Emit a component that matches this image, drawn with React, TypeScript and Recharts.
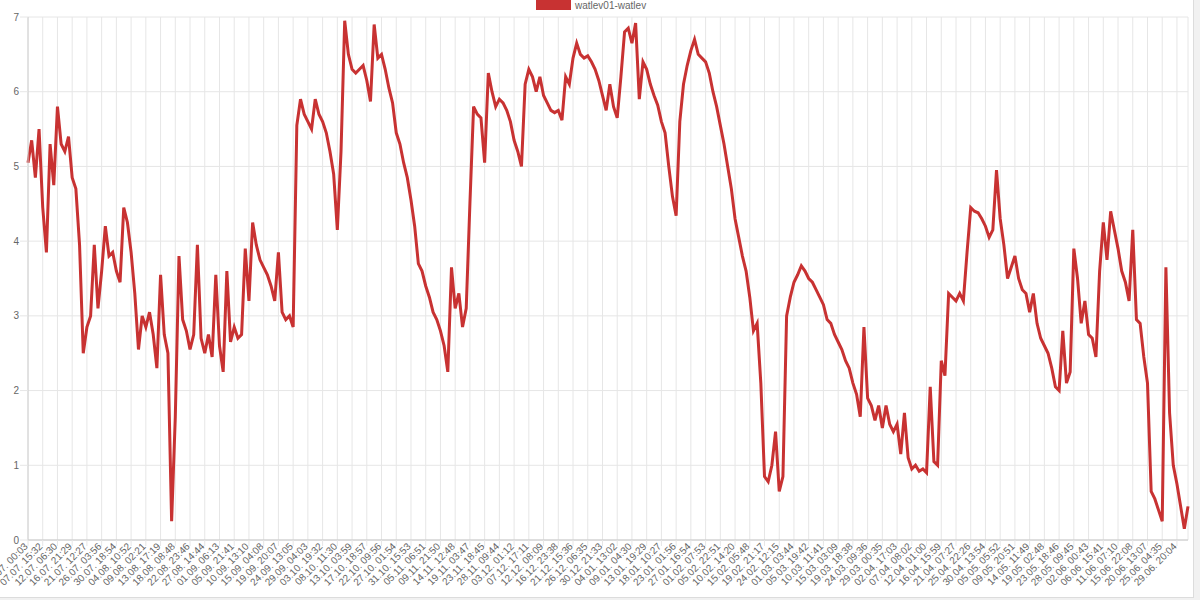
import { LineChart, Line, XAxis, YAxis, CartesianGrid } from 'recharts';

// one label every 4 samples
const POINTS_PER_LABEL = 4;

const tickLabels = [
  '03.07. 00:03', '07.07. 15:32', '12.07. 06:30', '16.07. 21:29', '21.07. 12:27', '26.07. 03:56',
  '30.07. 18:54', '04.08. 10:52', '09.08. 02:21', '13.08. 17:19', '18.08. 08:48', '22.08. 23:46',
  '27.08. 14:44', '01.09. 06:13', '05.09. 21:41', '10.09. 13:10', '15.09. 04:08', '19.09. 20:07',
  '24.09. 13:05', '29.09. 04:03', '03.10. 19:32', '08.10. 11:30', '13.10. 03:59', '17.10. 18:57',
  '22.10. 09:56', '27.10. 01:54', '31.10. 15:53', '05.11. 06:51', '09.11. 21:50', '14.11. 12:48',
  '19.11. 03:47', '23.11. 18:45', '28.11. 09:44', '03.12. 01:12', '07.12. 17:11', '12.12. 08:09',
  '16.12. 23:38', '21.12. 15:36', '26.12. 06:35', '30.12. 21:33', '04.01. 13:02', '09.01. 04:30',
  '13.01. 19:29', '18.01. 10:27', '23.01. 01:56', '27.01. 16:54', '01.02. 07:53', '05.02. 22:51',
  '10.02. 14:20', '15.02. 05:48', '19.02. 21:17', '24.02. 12:15', '01.03. 03:44', '05.03. 19:42',
  '10.03. 11:41', '15.03. 03:09', '19.03. 18:38', '24.03. 09:36', '29.03. 00:35', '02.04. 17:03',
  '07.04. 08:02', '12.04. 01:00', '16.04. 15:59', '21.04. 07:27', '25.04. 22:26', '30.04. 13:54',
  '05.05. 05:52', '09.05. 20:51', '14.05. 11:49', '19.05. 02:48', '23.05. 18:46', '28.05. 09:45',
  '02.06. 00:43', '06.06. 15:41', '11.06. 07:10', '15.06. 22:08', '20.06. 13:07', '25.06. 04:35',
  '29.06. 20:04',
];

const watlev = [
  5.05, 5.35, 4.85, 5.5, 4.45, 3.85, 5.3, 4.75,
  5.8, 5.3, 5.2, 5.4, 4.85, 4.7, 3.95, 2.5,
  2.85, 3.0, 3.95, 3.1, 3.6, 4.2, 3.8, 3.85,
  3.6, 3.45, 4.45, 4.25, 3.85, 3.3, 2.55, 3.0,
  2.85, 3.05, 2.75, 2.3, 3.55, 2.75, 2.5, 0.25,
  1.65, 3.8, 2.95, 2.8, 2.55, 2.75, 3.95, 2.7,
  2.5, 2.75, 2.45, 3.55, 2.6, 2.25, 3.6, 2.65,
  2.85, 2.7, 2.75, 3.9, 3.2, 4.25, 3.95, 3.75,
  3.65, 3.55, 3.4, 3.2, 3.85, 3.05, 2.95, 3.0,
  2.85, 5.55, 5.9, 5.7, 5.6, 5.5, 5.9, 5.7,
  5.6, 5.45, 5.2, 4.9, 4.15, 5.2, 6.95, 6.5,
  6.3, 6.25, 6.3, 6.35, 6.15, 5.87, 6.9, 6.45,
  6.5, 6.3, 6.05, 5.85, 5.45, 5.3, 5.05, 4.85,
  4.55, 4.2, 3.7, 3.6, 3.4, 3.25, 3.05, 2.95,
  2.8, 2.6, 2.25, 3.65, 3.1, 3.3, 2.85, 3.1,
  4.5, 5.8, 5.7, 5.65, 5.05, 6.25, 6.0, 5.8,
  5.9, 5.85, 5.75, 5.6, 5.35, 5.2, 5.0, 6.1,
  6.3, 6.2, 6.0, 6.2, 5.95, 5.85, 5.75, 5.72,
  5.75, 5.62, 6.2, 6.1, 6.45, 6.65, 6.5, 6.45,
  6.48, 6.4, 6.3, 6.15, 5.95, 5.75, 6.1, 5.8,
  5.65, 6.2, 6.8, 6.85, 6.65, 6.92, 5.9, 6.4,
  6.3, 6.1, 5.95, 5.82, 5.6, 5.45, 5.0, 4.6,
  4.34, 5.6, 6.1, 6.35, 6.55, 6.7, 6.5, 6.45,
  6.4, 6.25, 6.0, 5.8, 5.55, 5.3, 5.0, 4.7,
  4.3, 4.05, 3.8, 3.6, 3.25, 2.8, 2.9, 2.1,
  0.85, 0.78, 1.0, 1.45, 0.65, 0.85, 3.0, 3.25,
  3.45, 3.55, 3.67, 3.6, 3.5, 3.45, 3.35, 3.25,
  3.15, 2.95, 2.9, 2.75, 2.65, 2.55, 2.4, 2.3,
  2.1, 1.95, 1.65, 2.85, 1.9, 1.8, 1.6, 1.8,
  1.5, 1.8, 1.55, 1.45, 1.55, 1.15, 1.7, 1.1,
  0.95, 1.0, 0.92, 0.95, 0.9, 2.05, 1.05, 1.0,
  2.4, 2.2, 3.3, 3.25, 3.2, 3.3, 3.2, 3.85,
  4.45, 4.4, 4.38, 4.3, 4.2, 4.05, 4.15, 4.95,
  4.3, 3.95, 3.5, 3.65, 3.8, 3.5, 3.35, 3.3,
  3.05, 3.3, 2.9, 2.7, 2.6, 2.5, 2.3, 2.05,
  2.0, 2.8, 2.1, 2.25, 3.9, 3.5, 2.9, 3.2,
  2.75, 2.7, 2.45, 3.6, 4.25, 3.75, 4.4, 4.15,
  3.9, 3.6, 3.45, 3.2, 4.15, 2.95, 2.9, 2.45,
  2.1, 0.65, 0.55, 0.4, 0.25, 3.65, 1.7, 1.0,
  0.75, 0.45, 0.15, 0.45,
];

const yTicks = [0, 1, 2, 3, 4, 5, 6, 7];

const data = watlev.map((v, i) => ({ i, v }));
const xTicks = tickLabels.map((_, k) => k * POINTS_PER_LABEL);

const RED = '#c83232';
const FONT = '"Liberation Sans", Arial, sans-serif';

function XTick(props: any) {
  const { x, y, payload } = props;
  const label = tickLabels[Math.round(payload.value / POINTS_PER_LABEL)];
  const ax = x + 0.5;
  return (
    <text
      x={ax}
      y={y}
      transform={`rotate(-45, ${ax}, ${y})`}
      textAnchor="end"
      fontSize={10}
      fontFamily={FONT}
      fill="#666"
    >
      {label}
    </text>
  );
}

export default function App() {
  return (
    <div style={{ position: 'absolute', left: 0, top: 0, width: 1200, height: 600, background: '#f1f1f1' }}>
      <div
        style={{
          position: 'absolute',
          left: 0,
          top: 0,
          width: 1193,
          height: 597,
          background: '#fff',
          borderRight: '1px solid #dcdcdc',
          borderBottom: '1px solid #dcdcdc',
          overflow: 'hidden',
        }}
      >
        <div style={{ position: 'absolute', left: 536, top: -2, width: 35, height: 12, background: RED }} />
        <div
          style={{
            position: 'absolute',
            left: 575,
            top: 0,
            fontFamily: FONT,
            fontSize: 10,
            lineHeight: '11px',
            color: '#666',
            whiteSpace: 'nowrap',
          }}
        >
          watlev01-watlev
        </div>
        <LineChart width={1193} height={597} data={data} margin={{ top: 17, right: 5, left: 0, bottom: 0 }}>
          <CartesianGrid stroke="#e6e6e6" />
          <XAxis
            dataKey="i"
            type="number"
            domain={[0, watlev.length - 1]}
            ticks={xTicks}
            interval={0}
            height={57}
            tick={<XTick />}
            tickSize={6}
            tickMargin={1}
            tickLine={{ stroke: '#e6e6e6' }}
            axisLine={{ stroke: '#c8c8c8' }}
          />
          <YAxis
            type="number"
            domain={[0, 7]}
            ticks={yTicks}
            width={28}
            tickSize={8}
            tickMargin={1}
            tickLine={{ stroke: '#e6e6e6' }}
            axisLine={{ stroke: '#d0d0d0' }}
            tick={{ fontSize: 10, fill: '#666', fontFamily: FONT }}
          />
          <Line
            type="linear"
            dataKey="v"
            stroke={RED}
            strokeWidth={3}
            dot={false}
            isAnimationActive={false}
          />
        </LineChart>
      </div>
    </div>
  );
}
